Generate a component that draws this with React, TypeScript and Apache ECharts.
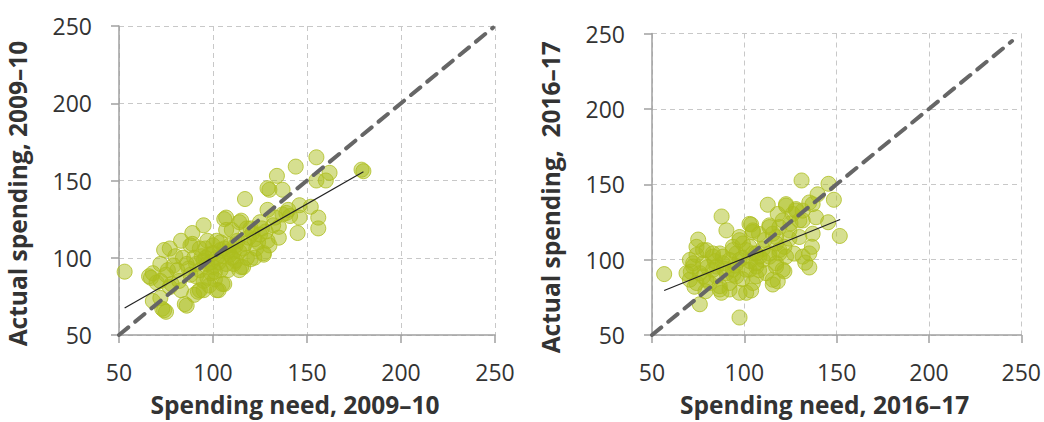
import React, { useEffect, useRef } from 'react';
import * as echarts from 'echarts';

// spending need vs actual spending, one point per council
const points0910: [number, number][] = [
  [53, 91], [155, 165], [144, 159], [180, 156], [179, 157], [162, 155], [155, 150], [160, 150],
  [134, 153], [130, 144], [129, 145], [137, 144], [117, 138], [146, 134], [152, 133], [129, 131],
  [137, 128], [141, 127], [146, 126], [156, 126], [156, 119], [145, 116], [132, 121], [135, 120],
  [106, 125], [107, 126], [115, 124], [95, 121], [89, 116], [110, 118], [118, 119], [125, 123],
  [83, 111], [89, 109], [74, 105], [77, 106], [80, 101], [72, 96], [67, 87], [66, 88],
  [68, 72], [73, 67], [75, 65], [86, 69], [92, 78], [95, 79], [103, 79], [105, 83],
  [115, 94], [120, 99], [127, 102], [130, 108], [88, 108], [96, 106], [100, 108], [104, 110],
  [107, 118], [114, 123], [120, 119], [109, 108], [113, 111], [116, 106], [122, 112], [125, 115],
  [129, 111], [139, 129], [127, 103], [122, 100], [116, 94], [111, 96], [114, 92], [106, 83],
  [102, 79], [93, 79], [90, 76], [83, 79], [82, 85], [78, 83], [72, 74], [74, 66],
  [85, 70], [97, 96], [100, 94], [93, 92], [88, 89], [97, 87], [104, 92], [107, 96],
  [102, 100], [98, 102], [95, 98], [91, 96], [81, 92], [75, 89], [72, 85], [77, 81],
  [118, 100], [123, 106], [114, 104], [109, 102], [106, 106], [102, 111], [97, 111], [93, 106],
  [86, 96], [84, 100], [70, 84], [68, 90], [76, 92], [79, 95], [99, 90], [101, 86],
  [110, 100], [112, 108], [119, 113], [124, 110], [135, 113], [140, 131], [133, 126],
  [96, 100], [99, 97], [103, 97], [105, 101], [108, 104], [111, 104], [104, 105], [100, 103],
  [94, 101], [90, 100], [87, 93], [91, 88], [95, 85], [98, 82], [101, 91], [108, 92],
  [112, 98], [117, 109], [121, 116], [126, 119], [128, 117],
];

const points1617: [number, number][] = [
  [131, 152.5], [145.6, 150.3], [139.7, 143.3], [135.2, 137.9], [137, 136.8], [148.5, 139.7],
  [112.7, 136.4], [122.6, 135.8], [118.1, 130.3], [128, 133.5], [126.2, 130.3], [131.6, 132.5],
  [129.8, 126], [145.4, 124.8], [151.7, 115.7], [137, 117.2], [136.6, 108.5], [135.2, 104.1],
  [131.6, 102], [135.2, 94.8], [87.7, 128.6], [90.3, 119.4], [75, 113.3], [103.7, 123.3],
  [104.6, 118.3], [56.6, 90.4], [75.9, 70.4], [97.4, 61.6], [97.4, 78], [103.7, 79.5],
  [87.6, 78], [115.4, 83.5], [118.1, 85.6], [121.7, 92.2], [122.6, 102], [119, 106.3],
  [113.6, 122.7], [115.4, 117.2], [120.8, 126], [124.4, 119.4], [117.2, 110.7], [124.4, 113.9],
  [70.5, 99.8], [74.1, 103.1], [79.5, 106.3], [83, 102], [86.7, 104.1], [72.3, 95.4],
  [75.9, 91], [79.5, 86.7], [70.5, 86.7], [84.9, 95.4], [88.4, 97.6], [92, 99.8],
  [93.8, 93.3], [92, 84.5], [86.7, 82.4], [95.7, 88.9], [101, 93.3], [106.4, 95.4],
  [106.4, 104.1], [110, 99.8], [102.8, 108.5], [99.2, 110.7], [95.7, 104.1], [106.4, 88.9],
  [111.8, 91], [117.2, 95.4], [113.6, 104.1], [97.4, 115], [93.8, 108.5], [74.1, 108.5],
  [68.7, 91], [77.7, 97.6], [84.9, 88.9], [74.1, 84.5], [122.6, 136.8], [128, 132.5],
  [131.6, 126], [138.8, 128.1], [129.8, 115], [120.8, 93.3], [115.4, 86.7], [117.2, 97.6],
  [113.6, 102], [119, 104.1], [121.7, 108.5], [117.2, 115], [113.6, 121.6], [119, 121.6],
  [102.8, 123.7], [104.6, 119.4], [97.4, 112.9], [101, 106.3], [104.6, 104.1], [108.2, 102],
  [106.4, 97.6], [102.8, 93.3], [104.6, 84.5], [101, 78], [92, 80.2], [86.7, 80.2],
  [81.3, 84.5], [77.7, 88.9], [72.3, 97.6], [77.7, 106.3], [83, 104.1], [88.4, 102],
  [93.8, 106.3], [97.4, 99.8], [90.3, 91], [83, 93.3], [73, 82], [71, 92], [79, 79],
  [95, 96], [99, 101], [103, 99], [108, 93], [110, 107], [99, 87], [94, 90], [89, 94],
  [84, 99], [80, 95], [111, 113], [108, 117], [125, 124], [127, 104], [133, 98],
];

// trend line ends and the 45-degree reference line
const trend0910: [number, number][] = [[53, 67.5], [180, 155.6]];
const trend1617: [number, number][] = [[56.6, 79.5], [151.9, 126.6]];
const diag0910: [number, number][] = [[50, 50], [249, 249]];
const diag1617: [number, number][] = [[50, 50], [245, 245]];

const ticks = [50, 100, 150, 200, 250];

const FONT = '"Open Sans", "Noto Sans", sans-serif';

const App: React.FC = () => {
  const chartRef = useRef<HTMLDivElement>(null);

  useEffect(() => {
    if (!chartRef.current) return;
    const chart = echarts.init(chartRef.current, null, { renderer: 'svg' });

    const xAxis = (idx: number, name: string) => ({
      type: 'value',
      gridIndex: idx,
      min: ticks[0],
      max: ticks[ticks.length - 1],
      interval: 50,
      name,
      nameLocation: 'middle',
      nameGap: 57,
      nameTextStyle: {
        fontFamily: FONT, fontSize: 24.5, fontWeight: 'bold', color: '#333',
        padding: [0, 24, 0, 0],
      },
      axisLine: { show: true, lineStyle: { color: '#a0a0a0', width: 1.5 } },
      axisTick: { show: true, length: 8, lineStyle: { color: '#a0a0a0', width: 1.5 } },
      axisLabel: { margin: 25, fontFamily: FONT, fontSize: 23, color: '#333' },
      splitLine: { show: true, lineStyle: { color: '#c8c8c8', type: [5, 4] } },
    });
    const yAxis = (idx: number, name: string) => ({
      type: 'value',
      gridIndex: idx,
      min: ticks[0],
      max: ticks[ticks.length - 1],
      interval: 50,
      name,
      nameLocation: 'middle',
      nameGap: 89,
      nameRotate: 90,
      nameTextStyle: {
        fontFamily: FONT, fontSize: 24.5, fontWeight: 'bold', color: '#333',
        padding: [0, 26, 0, 0],
      },
      axisLine: { show: true, lineStyle: { color: '#a0a0a0', width: 1.5 } },
      axisTick: { show: true, length: 8, lineStyle: { color: '#a0a0a0', width: 1.5 } },
      axisLabel: { margin: 27, fontFamily: FONT, fontSize: 23, color: '#333' },
      splitLine: { show: true, lineStyle: { color: '#c8c8c8', type: [5, 4] } },
    });

    const scatter = (idx: number, data: [number, number][]) => ({
      type: 'scatter',
      xAxisIndex: idx,
      yAxisIndex: idx,
      data,
      symbolSize: 15,
      itemStyle: { color: 'rgba(172,190,30,0.62)', borderColor: '#aebe1e', borderWidth: 1 },
    });
    const diag = (idx: number, data: [number, number][]) => ({
      type: 'line',
      xAxisIndex: idx,
      yAxisIndex: idx,
      data,
      symbol: 'none',
      lineStyle: { color: '#666', width: 4, type: [12, 9], cap: 'round' },
      z: 3,
    });
    const trend = (idx: number, data: [number, number][]) => ({
      type: 'line',
      xAxisIndex: idx,
      yAxisIndex: idx,
      data,
      symbol: 'none',
      lineStyle: { color: '#222', width: 1.2 },
      z: 4,
    });

    const option = {
      animation: false,
      grid: [
        { left: 119, top: 26, width: 376, height: 312 },
        { left: 652, top: 33.5, width: 371, height: 306 },
      ],
      xAxis: [xAxis(0, 'Spending need, 2009–10'), xAxis(1, 'Spending need, 2016–17')],
      yAxis: [yAxis(0, 'Actual spending, 2009–10'), yAxis(1, 'Actual spending,  2016–17')],
      series: [
        scatter(0, points0910),
        scatter(1, points1617),
        diag(0, diag0910),
        diag(1, diag1617),
        trend(0, trend0910),
        trend(1, trend1617),
      ],
    };

    chart.setOption(option);

    const resizeChart = () => chart.resize();
    window.addEventListener('resize', resizeChart);
    return () => {
      window.removeEventListener('resize', resizeChart);
      chart.dispose();
    };
  }, []);

  return (
    <div
      ref={chartRef}
      style={{ position: 'fixed', left: 0, top: 0, width: '1044px', height: '422px', background: '#fff' }}
    ></div>
  );
};

export default App;
